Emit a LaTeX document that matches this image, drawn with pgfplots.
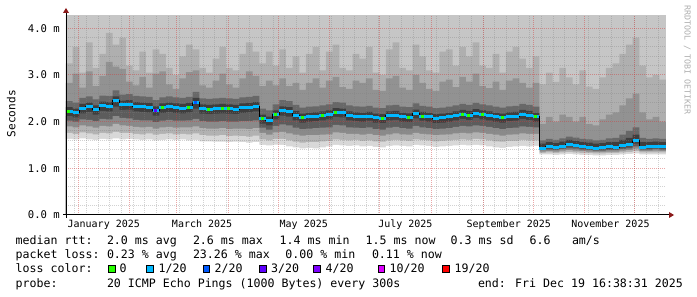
\documentclass[border=0pt]{standalone}
\usepackage{fontspec}
\usepackage{pgfplots}
\usepackage{pgfplotstable}
\pgfplotsset{compat=1.18}
\newfontfamily\mono{DejaVu Sans Mono}
\newcommand\legf{\mono\fontsize{11.6}{13}\selectfont}
\newcommand\axf{\mono\fontsize{10}{12}\selectfont}
\newcommand\yaxf{\mono\fontsize{10.6}{12}\selectfont}
\definecolor{sTop}{HTML}{C6C6C6}
\definecolor{sU4}{HTML}{AFAFAF}
\definecolor{sU3}{HTML}{929292}
\definecolor{sU2}{HTML}{686868}
\definecolor{sU1}{HTML}{3E3E3E}
\definecolor{sL1}{HTML}{5C5C5C}
\definecolor{sL2}{HTML}{8A8A8A}
\definecolor{sL3}{HTML}{B2B2B2}
\definecolor{sL4}{HTML}{D8D8D8}
\definecolor{lz}{HTML}{26FF00}
\definecolor{l1}{HTML}{00B8FF}
\definecolor{l2}{HTML}{0059FF}
\definecolor{l3}{HTML}{5E00FF}
\definecolor{l4}{HTML}{7E00FF}
\definecolor{l10}{HTML}{DD00FF}
\definecolor{l19}{HTML}{FF0000}
\definecolor{mgrid}{RGB}{210,60,60}
\definecolor{arrowred}{HTML}{8B1A1A}
\pgfdeclareplotmark{hbar}{\pgfpathmoveto{\pgfpointorigin}\pgfpathlineto{\pgfpoint{6.667pt}{0pt}}\pgfusepathqstroke}
\pgfdeclareplotmark{hdot}{\pgfpathmoveto{\pgfpoint{1.5pt}{0pt}}\pgfpathlineto{\pgfpoint{4.5pt}{0pt}}\pgfusepathqstroke}

\pgfplotstableread{
x      lo   l4   l3   l2   l1   med  u1   u2   u3   u4
-7.3   1.63 1.76 1.90 2.02 2.12 2.22 2.31 2.44 2.83 3.25
-3.3   1.62 1.74 1.88 2.00 2.09 2.19 2.28 2.41 3.03 3.60
0.7    1.64 1.77 1.92 2.05 2.18 2.29 2.38 2.51 2.73 3.05
4.7    1.62 1.75 1.90 2.04 2.21 2.32 2.41 2.54 3.08 3.70
8.7    1.61 1.73 1.87 2.01 2.15 2.26 2.35 2.48 2.76 3.15
12.7   1.63 1.76 1.91 2.06 2.23 2.34 2.43 2.56 2.98 3.45
16.7   1.62 1.75 1.90 2.05 2.22 2.33 2.42 2.55 3.28 3.90
20.7   1.64 1.78 1.95 2.12 2.32 2.45 2.54 2.67 3.18 3.65
24.7   1.62 1.76 1.92 2.08 2.25 2.36 2.45 2.58 3.13 3.80
28.7   1.63 1.76 1.91 2.07 2.26 2.37 2.46 2.59 2.86 3.20
32.7   1.62 1.74 1.89 2.04 2.22 2.33 2.42 2.55 2.78 3.10
36.7   1.61 1.73 1.88 2.03 2.21 2.32 2.41 2.54 2.96 3.50
40.7   1.62 1.75 1.89 2.03 2.20 2.31 2.40 2.53 2.73 3.05
44.7   1.60 1.72 1.85 1.99 2.13 2.24 2.33 2.46 3.03 3.55
48.7   1.61 1.74 1.88 2.02 2.19 2.30 2.39 2.52 3.08 3.45
52.7   1.62 1.75 1.89 2.04 2.21 2.32 2.41 2.54 2.80 3.15
56.7   1.61 1.73 1.87 2.02 2.19 2.30 2.39 2.52 2.70 3.00
60.7   1.62 1.74 1.88 2.02 2.18 2.29 2.38 2.51 2.93 3.40
64.7   1.60 1.73 1.88 2.03 2.20 2.31 2.40 2.53 3.06 3.65
68.7   1.61 1.75 1.90 2.06 2.28 2.42 2.51 2.64 3.10 3.55
72.7   1.58 1.71 1.86 2.01 2.17 2.28 2.37 2.50 2.78 3.15
76.7   1.58 1.70 1.85 2.00 2.16 2.27 2.36 2.49 2.73 3.05
80.7   1.57 1.70 1.85 2.00 2.17 2.28 2.37 2.50 2.88 3.35
84.7   1.57 1.71 1.86 2.01 2.18 2.29 2.38 2.51 3.03 3.60
88.7   1.56 1.69 1.84 2.00 2.17 2.28 2.37 2.50 2.80 3.15
92.7   1.57 1.70 1.85 2.00 2.16 2.27 2.36 2.49 2.73 3.10
96.7   1.56 1.69 1.85 2.01 2.19 2.30 2.39 2.52 2.93 3.45
100.7  1.55 1.68 1.84 2.01 2.20 2.31 2.40 2.53 3.08 3.70
104.7  1.56 1.70 1.86 2.03 2.22 2.33 2.42 2.55 2.98 3.50
108.7  1.50 1.62 1.76 1.87 1.96 2.06 2.15 2.28 2.76 3.25
112.7  1.49 1.60 1.72 1.83 1.92 2.02 2.11 2.24 2.88 3.50
116.7  1.51 1.63 1.77 1.91 2.05 2.15 2.24 2.37 2.78 3.20
120.7  1.50 1.63 1.78 1.94 2.13 2.24 2.33 2.46 2.93 3.55
124.7  1.47 1.60 1.75 1.92 2.11 2.22 2.31 2.44 2.76 3.15
128.7  1.45 1.57 1.72 1.87 2.03 2.14 2.23 2.36 2.83 3.40
132.7  1.43 1.55 1.70 1.84 1.98 2.08 2.17 2.30 2.68 3.05
136.7  1.44 1.56 1.71 1.85 2.00 2.10 2.19 2.32 2.83 3.45
140.7  1.43 1.56 1.71 1.86 2.01 2.11 2.20 2.33 2.93 3.60
144.7  1.45 1.58 1.72 1.87 2.03 2.13 2.22 2.35 2.73 3.10
148.7  1.47 1.59 1.73 1.88 2.05 2.15 2.24 2.37 2.88 3.50
152.7  1.50 1.62 1.77 1.93 2.10 2.20 2.29 2.42 2.96 3.65
156.7  1.49 1.61 1.76 1.92 2.09 2.19 2.28 2.41 2.74 3.15
160.7  1.48 1.60 1.74 1.88 2.03 2.13 2.22 2.35 2.70 3.10
164.7  1.49 1.61 1.74 1.87 2.01 2.11 2.20 2.33 2.88 3.45
168.7  1.47 1.59 1.72 1.86 2.00 2.10 2.19 2.32 2.83 3.35
172.7  1.48 1.60 1.74 1.88 2.02 2.12 2.21 2.34 2.93 3.60
176.7  1.46 1.58 1.71 1.84 1.98 2.08 2.17 2.30 2.68 3.05
180.7  1.45 1.57 1.70 1.83 1.97 2.07 2.16 2.29 2.66 3.00
184.7  1.48 1.60 1.73 1.87 2.03 2.13 2.22 2.35 2.93 3.55
188.7  1.49 1.61 1.75 1.89 2.04 2.14 2.23 2.36 2.98 3.70
192.7  1.48 1.60 1.73 1.86 2.00 2.10 2.19 2.32 2.73 3.15
196.7  1.47 1.59 1.72 1.85 1.99 2.09 2.18 2.31 2.68 3.10
200.7  1.50 1.62 1.76 1.91 2.07 2.17 2.26 2.39 3.00 3.65
204.7  1.49 1.61 1.74 1.88 2.02 2.12 2.21 2.34 2.83 3.40
208.7  1.48 1.60 1.73 1.86 2.00 2.10 2.19 2.32 2.70 3.10
212.7  1.46 1.58 1.71 1.84 1.97 2.07 2.16 2.29 2.66 3.05
216.7  1.47 1.59 1.72 1.85 1.98 2.08 2.17 2.30 2.86 3.50
220.7  1.48 1.60 1.73 1.86 2.00 2.10 2.19 2.32 2.90 3.55
224.7  1.49 1.61 1.75 1.89 2.03 2.13 2.22 2.35 2.74 3.20
228.7  1.50 1.62 1.76 1.91 2.06 2.16 2.25 2.38 2.96 3.60
232.7  1.49 1.61 1.75 1.90 2.04 2.14 2.23 2.36 2.86 3.40
236.7  1.50 1.63 1.77 1.92 2.08 2.18 2.27 2.40 3.03 3.70
240.7  1.49 1.62 1.76 1.91 2.05 2.15 2.24 2.37 2.76 3.20
244.7  1.47 1.60 1.74 1.89 2.03 2.13 2.22 2.35 2.72 3.15
248.7  1.45 1.58 1.72 1.86 2.00 2.10 2.19 2.32 2.86 3.45
252.7  1.44 1.57 1.70 1.84 1.98 2.08 2.17 2.30 2.68 3.05
256.7  1.46 1.59 1.72 1.86 2.01 2.11 2.20 2.33 2.88 3.50
260.7  1.47 1.59 1.73 1.87 2.02 2.12 2.21 2.34 2.93 3.60
264.7  1.48 1.61 1.75 1.90 2.06 2.16 2.25 2.38 2.83 3.35
268.7  1.47 1.60 1.74 1.89 2.04 2.14 2.23 2.36 2.73 3.15
272.7  1.48 1.60 1.74 1.88 2.00 2.10 2.19 2.32 2.83 3.40
276.7  1.30 1.33 1.36 1.39 1.41 1.43 1.53 1.60 1.95 2.80
280.7  1.30 1.34 1.37 1.40 1.43 1.46 1.56 1.63 2.10 3.05
284.7  1.29 1.33 1.36 1.39 1.42 1.44 1.54 1.61 2.00 2.85
288.7  1.30 1.34 1.38 1.41 1.44 1.47 1.57 1.64 2.15 3.15
292.7  1.31 1.35 1.39 1.43 1.47 1.51 1.61 1.68 2.10 2.95
296.7  1.30 1.34 1.38 1.42 1.46 1.49 1.59 1.66 2.00 2.80
300.7  1.29 1.33 1.37 1.40 1.43 1.46 1.56 1.63 2.10 3.10
304.7  1.29 1.33 1.36 1.39 1.42 1.45 1.55 1.62 1.95 2.75
308.7  1.28 1.32 1.35 1.38 1.40 1.43 1.53 1.60 1.92 2.70
312.7  1.28 1.32 1.35 1.38 1.41 1.44 1.54 1.61 2.05 2.95
316.7  1.29 1.33 1.36 1.39 1.42 1.46 1.56 1.64 2.15 3.15
320.7  1.29 1.33 1.36 1.39 1.42 1.45 1.56 1.65 2.20 3.25
324.7  1.30 1.34 1.38 1.41 1.45 1.49 1.61 1.72 2.35 3.45
328.7  1.31 1.35 1.39 1.43 1.47 1.52 1.65 1.80 2.50 3.65
332.7  1.32 1.37 1.42 1.47 1.53 1.59 1.72 1.88 2.60 3.80
336.7  1.30 1.34 1.37 1.40 1.42 1.45 1.56 1.65 2.20 3.20
340.7  1.30 1.34 1.37 1.40 1.43 1.46 1.56 1.63 2.05 2.95
344.7  1.30 1.34 1.38 1.41 1.44 1.47 1.57 1.64 2.10 3.00
348.7  1.30 1.34 1.37 1.40 1.43 1.46 1.56 1.63 2.00 2.90
352.7  1.30 1.34 1.37 1.40 1.43 1.46 1.56 1.63 2.00 2.90
}\smoke

\begin{document}
\begin{tikzpicture}[x=1pt,y=1pt]
\useasboundingbox (0,0) rectangle (697,297);
\fill[white] (0,0) rectangle (697,297);
\begin{axis}[
  at={(66pt,82pt)}, anchor=south west,
  scale only axis, width=600pt, height=200pt,
  xmin=-7.3, xmax=352.7, ymin=0, ymax=4.2857,
  axis on top,
  axis line style={draw=none},
  major tick length=0pt, minor tick length=0pt,
  xtick={0,31,59,90,120,151,181,212,243,273,304,334},
  xticklabels={January 2025,,March 2025,,May 2025,,July 2025,,September 2025,,November 2025,},
  xticklabel style={font=\axf, anchor=north, inner sep=0pt, yshift=-5pt, xshift=25.6pt},
  minor xtick={-2,5,...,348},
  ytick={0,1,2,3,4},
  yticklabels={0.0 m,1.0 m,2.0 m,3.0 m,4.0 m},
  yticklabel style={font=\yaxf, anchor=east, inner sep=0pt, xshift=-6pt},
  minor y tick num=4,
  xmajorgrids=true, ymajorgrids=true, xminorgrids=true, yminorgrids=true,
  major grid style={mgrid, draw opacity=0.45, line width=1pt, dash pattern=on 1pt off 1pt},
  minor grid style={black!50, draw opacity=0.35, line width=1pt, dash pattern=on 1pt off 1pt},
]
\addplot[fill=sTop, draw=none] coordinates {(-7.3,0) (-7.3,4.3) (352.7,4.3) (352.7,0)} \closedcycle;
\addplot[const plot, fill=sU4, draw=none] table[x=x,y=u4]{\smoke} \closedcycle;
\addplot[const plot, fill=sU3, draw=none] table[x=x,y=u3]{\smoke} \closedcycle;
\addplot[const plot, fill=sU2, draw=none] table[x=x,y=u2]{\smoke} \closedcycle;
\addplot[const plot, fill=sU1, draw=none] table[x=x,y=u1]{\smoke} \closedcycle;
\addplot[const plot, fill=sL1, draw=none] table[x=x,y=l1]{\smoke} \closedcycle;
\addplot[const plot, fill=sL2, draw=none] table[x=x,y=l2]{\smoke} \closedcycle;
\addplot[const plot, fill=sL3, draw=none] table[x=x,y=l3]{\smoke} \closedcycle;
\addplot[const plot, fill=sL4, draw=none] table[x=x,y=l4]{\smoke} \closedcycle;
\addplot[const plot, fill=white, draw=none] table[x=x,y=lo]{\smoke} \closedcycle;
\addplot[const plot, black, line width=1pt, mark=none] table[x=x,y=med]{\smoke};
\addplot[only marks, mark=hbar, mark options={l1, line width=3pt}, skip coords between index={90}{91}] table[x=x,y=med]{\smoke};
\addplot[only marks, mark=hdot, mark options={lz, line width=3pt}] coordinates {
(-7.3,2.22) (48.7,2.30) (64.7,2.31) (76.7,2.27) (84.7,2.29) (88.7,2.28) (108.7,2.06) (116.7,2.15) (132.7,2.08) (144.7,2.13) (152.7,2.20) (180.7,2.07) (196.7,2.09) (204.7,2.12) (228.7,2.16) (232.7,2.14) (240.7,2.15) (252.7,2.08) (272.7,2.10)};
\addplot[only marks, mark=hdot, mark options={l2, line width=3pt}] coordinates {(68.7,2.42)};
\addplot[only marks, mark=hdot, mark options={l3, line width=3pt}] coordinates {(44.7,2.24)};
\end{axis}
% axes
\draw[black, line width=1pt] (63,82) -- (669,82);
\fill[arrowred] (669,79) -- (674,82) -- (669,85) -- cycle;
\draw[black, line width=1pt] (66,79) -- (66,284);
\fill[arrowred] (63,284) -- (66,289) -- (69,284) -- cycle;
% labels
\node[rotate=90, font=\mono\fontsize{11.1}{13}\selectfont, inner sep=0pt] at (11.2,183.3) {Seconds};
\node[rotate=-90, font=\mono\fontsize{8.3}{10}\selectfont, text={rgb,255:red,175;green,175;blue,175}, inner sep=0pt] at (687.3,237) {RRDTOOL / TOBI OETIKER};
% legend
\begin{scope}[every node/.style={anchor=base west, inner sep=0pt, font=\legf}]
\node at (15.5,52.5) {median rtt:};
\node at (106.8,52.5) {2.0 ms avg};
\node at (192.8,52.5) {2.6 ms max};
\node at (279.5,52.5) {1.4 ms min};
\node at (365.5,52.5) {1.5 ms now};
\node at (450.5,52.5) {0.3 ms sd};
\node at (529.5,52.5) {6.6};
\node at (571.8,52.5) {am/s};
\node at (15.5,38) {packet loss:};
\node at (106.8,38) {0.23 \% avg};
\node at (192.8,38) {23.26 \% max};
\node at (285.2,38) {0.00 \% min};
\node at (371.8,38) {0.11 \% now};
\node at (15.5,24) {loss color:};
\node at (119.5,24) {0};
\node at (158.5,24) {1/20};
\node at (214.5,24) {2/20};
\node at (271,24) {3/20};
\node at (325.5,24) {4/20};
\node at (389.5,24) {10/20};
\node at (454.5,24) {19/20};
\node at (15.5,9.5) {probe:};
\node at (106.8,9.5) {20 ICMP Echo Pings (1000 Bytes) every 300s};
\node at (477.8,9.5) {end: Fri Dec 19 16:38:31 2025};
\end{scope}
\begin{scope}[line width=1pt, draw=black]
\filldraw[fill=lz] (108.8,24.8) rectangle (115.5,31.2);
\filldraw[fill=l1] (146.5,24.8) rectangle (153.2,31.2);
\filldraw[fill=l2] (203.2,24.8) rectangle (209.8,31.2);
\filldraw[fill=l3] (259.8,24.8) rectangle (266.2,31.2);
\filldraw[fill=l4] (313.8,24.8) rectangle (320.2,31.2);
\filldraw[fill=l10] (378.2,24.8) rectangle (384.5,31.2);
\filldraw[fill=l19] (442.8,24.8) rectangle (449.5,31.2);
\end{scope}
\end{tikzpicture}
\end{document}
